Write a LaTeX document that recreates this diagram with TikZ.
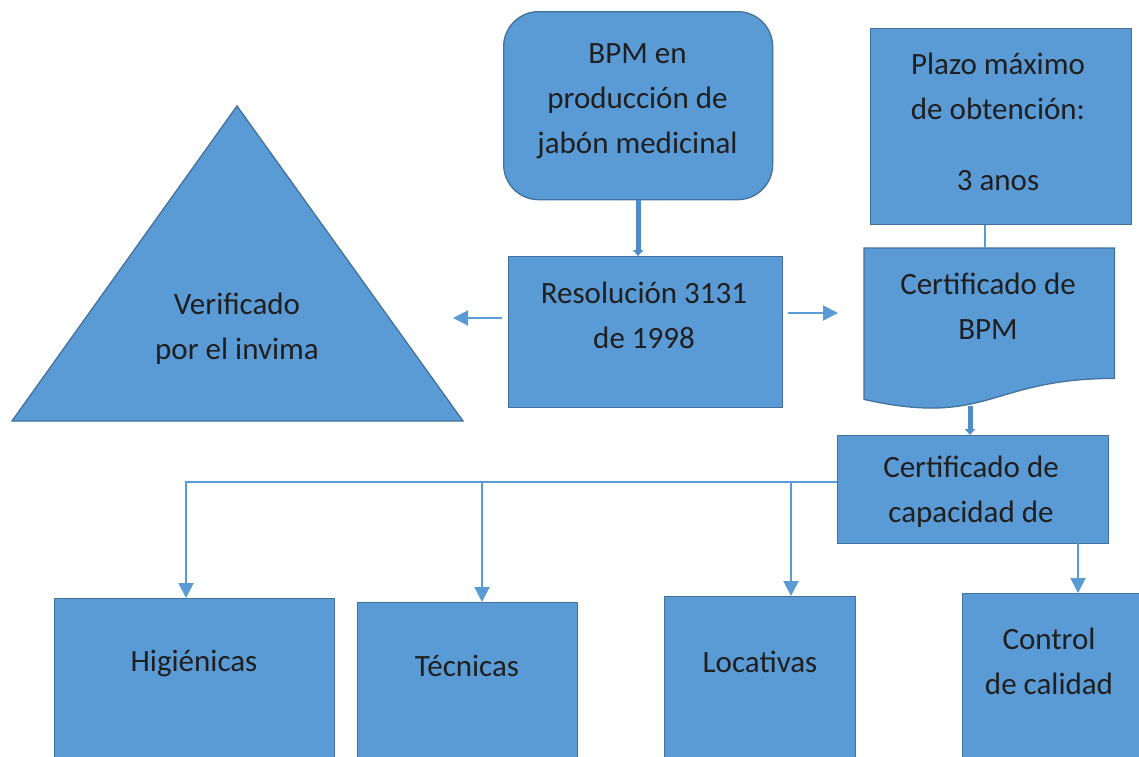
\documentclass[tikz,border=0pt]{standalone}
\usepackage{fontspec}
\setmainfont{Carlito}
\usetikzlibrary{arrows.meta,calc}
\definecolor{fillc}{HTML}{5B9BD5}
\definecolor{edgec}{HTML}{41719C}
\definecolor{linec}{HTML}{5B9BD5}
\definecolor{thickc}{HTML}{4F8CC9}
\begin{document}
\begin{tikzpicture}[x=1pt,y=-1pt,
  shapebox/.style={draw=edgec, fill=fillc, line width=1.3pt, inner sep=0pt, anchor=north west},
  txt/.style={font=\fontsize{31}{45}\selectfont, align=center, text=black!88, inner sep=0pt},
  conn/.style={draw=linec, line width=2pt, -{Triangle[width=15pt,length=15pt]}},
  plain/.style={draw=linec, line width=2pt},
  thickconn/.style={draw=thickc, line width=5pt, -{Triangle[width=10pt,length=6pt]}}]
\clip (0,0) rectangle (1139,756);
\fill[white] (0,0) rectangle (1139,756);
% boxes
\node[shapebox, rounded corners=35pt, minimum width=269pt, minimum height=188pt] (bpm) at (503,11) {};
\node[shapebox, minimum width=274pt, minimum height=151pt] (res) at (508,256) {};
\node[shapebox, minimum width=261pt, minimum height=196pt] (plazo) at (870,28) {};
\node[anchor=north west, inner sep=0pt, minimum width=250pt, minimum height=130pt] (cbpm) at (864,248) {};
\draw[draw=edgec, fill=fillc, line width=1.3pt] (cbpm.north west) -- (cbpm.north east) -- (cbpm.south east)
  .. controls ($(cbpm.south)$) and ($(cbpm.south)+(0,49)$) .. ($(cbpm.south west)+(0,21)$) -- cycle;
\coordinate (cbpmbot) at (970,406);
\node[shapebox, minimum width=271pt, minimum height=108pt] (ccap) at (837,435) {};
\node[shapebox, minimum width=280pt, minimum height=180pt] (hig) at (54,598) {};
\node[shapebox, minimum width=220pt, minimum height=180pt] (tec) at (357,602) {};
\node[shapebox, minimum width=191pt, minimum height=180pt] (loc) at (664,596) {};
\node[shapebox, minimum width=190pt, minimum height=180pt] (ctl) at (962,593) {};
% triangle
\coordinate (tA) at (237,106);
\coordinate (tL) at (12,421);
\coordinate (tR) at (463,421);
\draw[draw=edgec, fill=fillc, line width=1.3pt] (tA) -- (tR) -- (tL) -- cycle;
% texts
\node[txt] (bpmT) at (637.5,101) {BPM en\\producción de\\jabón medicinal};
\node[txt] (resT) at (644,315) {Resolución 3131\\de 1998};
\node[txt] (plazoT) at (998,122) {Plazo máximo\\de obtención:\\[26pt]3 anos};
\node[txt] (cbpmT) at (988,306) {Certificado de\\BPM};
\node[txt] (ccapT) at (971,492) {Certificado de\\capacidad de};
\node[txt] (triT) at (237,329) {Verificado\\por el invima};
\node[txt] (higT) at (194,663) {Higiénicas};
\node[txt] (tecT) at (467,666) {Técnicas};
\node[txt] (locT) at (760,662) {Locativas};
\node[txt] (ctlT) at (1049,661) {Control\\de calidad};
% connectors
\draw[thickconn] (bpm.south) -- (bpm.south |- res.north);
\coordinate (lt) at (453,318);
\draw[conn] (res.west |- lt) ++(-6,0) -- (lt);
\coordinate (rt) at (838,313);
\draw[conn] (res.east |- rt) ++(5,0) -- (rt);
\draw[plain] (plazo.south -| cbpm.north) ++(-4,0) -- ($(cbpm.north)+(-4,0)$);
\draw[thickconn] (cbpmbot) -- (cbpmbot |- ccap.north);
\draw[conn] (ccap.west |- 0,482) -| ($(hig.north west)+(132,0)$);
\draw[conn] (tec.north west) ++(125,-120) -- ++(0,120);
\draw[conn] (loc.north west) ++(127,-114) -- ++(0,114);
\draw[conn] (ctl.north west) ++(116,-50) -- ++(0,50);
\end{tikzpicture}
\end{document}
